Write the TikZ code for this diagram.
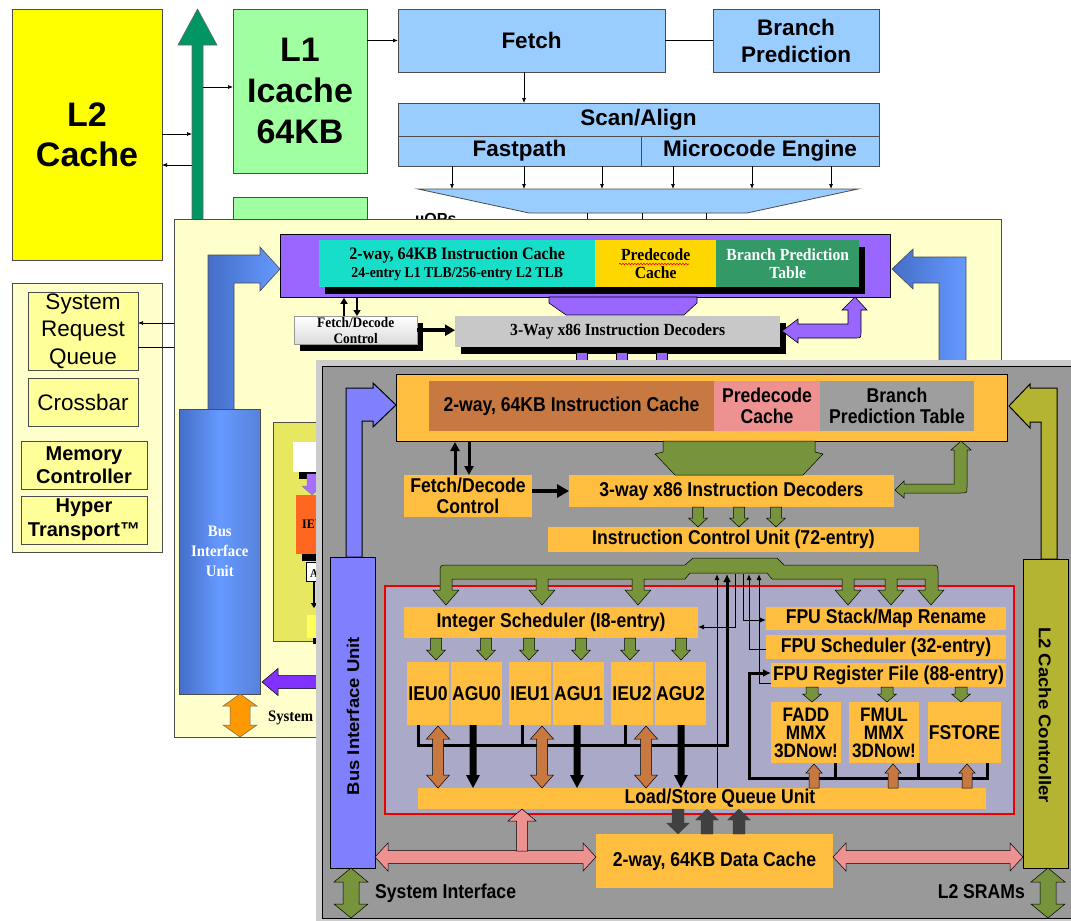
\documentclass[tikz,border=0pt]{standalone}
\usepackage{fontspec}
\setmainfont{Liberation Sans}
\newfontfamily\nsans[FakeStretch=0.88]{Liberation Sans}
\newfontfamily\nserif[FakeStretch=0.92]{Liberation Serif}
\usetikzlibrary{arrows.meta,decorations.pathmorphing}
\newcommand\fsz[2]{\fontsize{#1}{#2}\selectfont}
% box node from corner (#3,#4) to corner (#5,#6)
\newcommand\bx[7]{\node[#1,anchor=north west,minimum width={(#5-#3)*1pt},minimum height={(#6-#4)*1pt}] (#2) at (#3,#4) {#7};}
% block arrow: style, start x, start y, direction, length, shaft half width, head half width, head length
\newcommand\ba[8]{\path[#1,shift={(#2,#3)},rotate=#4] (0,-#6) -- ({#5-#8},-#6) -- ({#5-#8},-#7) -- (#5,0) -- ({#5-#8},#7) -- ({#5-#8},#6) -- (0,#6) -- cycle;}
% double-headed block arrow, same arguments
\newcommand\dba[8]{\path[#1,shift={(#2,#3)},rotate=#4] (0,0) -- (#8,-#7) -- (#8,-#6) -- ({#5-#8},-#6) -- ({#5-#8},-#7) -- (#5,0) -- ({#5-#8},#7) -- ({#5-#8},#6) -- (#8,#6) -- (#8,#7) -- cycle;}
% drop shadow behind a box
\newcommand\shd[4]{\fill[black] (#1+6,#2+7) rectangle (#3+6,#4+7);}

\definecolor{l2yel}{RGB}{255,255,0}
\definecolor{gbig}{RGB}{0,150,100}
\definecolor{l1grn}{RGB}{160,255,160}
\definecolor{tblue}{RGB}{153,204,255}
\definecolor{pyel}{RGB}{255,255,204}
\definecolor{ybox}{RGB}{255,255,153}
\definecolor{mpurp}{RGB}{153,102,255}
\definecolor{mcyan}{RGB}{22,222,200}
\definecolor{mgold}{RGB}{255,215,0}
\definecolor{mgrn}{RGB}{51,153,102}
\definecolor{mgray}{RGB}{200,200,200}
\definecolor{bdark}{RGB}{68,110,200}
\definecolor{blight}{RGB}{102,153,255}
\definecolor{apurp}{RGB}{128,48,255}
\definecolor{aorng}{RGB}{255,153,0}
\definecolor{iyel}{RGB}{232,232,96}
\definecolor{iorng}{RGB}{255,102,32}
\definecolor{fgray}{RGB}{153,153,153}
\definecolor{fband}{RGB}{204,204,204}
\definecolor{forng}{RGB}{255,190,64}
\definecolor{fbrown}{RGB}{200,121,65}
\definecolor{fpink}{RGB}{238,145,145}
\definecolor{fbpt}{RGB}{158,158,158}
\definecolor{fblue}{RGB}{128,128,255}
\definecolor{folive}{RGB}{119,147,60}
\definecolor{fl2}{RGB}{180,180,50}
\definecolor{flav}{RGB}{170,170,200}
\definecolor{fred}{RGB}{235,0,0}
\definecolor{fdark}{RGB}{64,64,64}

\tikzset{
  box/.style={draw=black!70,line width=0.8pt,inner sep=0pt,outer sep=0pt,align=center},
  tarr/.style={-{Latex[length=5pt,width=4pt]},line width=0.7pt},
  topfont/.style={font=\bfseries\fsz{22.5}{27}},
  mser/.style={font=\nserif\bfseries\fsz{17}{18}},
  fbox/.style={fill=forng,inner sep=0pt,outer sep=0pt,align=center,font=\nsans\bfseries\fsz{20}{21}},
  gar/.style={fill=folive,draw=black,line width=0.5pt},
  brar/.style={fill=fbrown,draw=black,line width=0.5pt},
  pkar/.style={fill=fpink,draw=black,line width=0.5pt},
  dkar/.style={fill=fdark,draw=fdark,line width=0.3pt},
  bkar/.style={fill=black},
  fline/.style={line width=1pt},
  fthick/.style={line width=3pt},
  ftip/.style={-{Latex[length=6pt,width=5pt]}},
}

\begin{document}
\begin{tikzpicture}[x=1pt,y=-1pt]
\useasboundingbox (0,0) rectangle (1071,921);
\fill[white] (0,0) rectangle (1071,921);

%% ---------- fetch pipeline sketch (back) ----------
\bx{box,fill=l2yel,font=\bfseries\fsz{34}{40}}{L2}{12}{9}{162}{260}{L2\\Cache}
\ba{fill=gbig,draw=black!60,line width=0.6pt}{197.5}{225}{90}{216}{5.5}{19.5}{36}
\coordinate (gbL) at (192,100);
\coordinate (gbR) at (203,100);
\bx{box,fill=l1grn,font=\bfseries\fsz{34}{41}}{L1}{233}{9}{367}{173}{L1\\Icache\\64KB}
\bx{box,fill=l1grn}{L1b}{233}{197}{367}{240}{}
\draw[tarr] (L2.east |- 0,134) -- (gbL |- 0,134);
\draw[tarr] (gbL |- 0,165) -- (L2.east |- 0,165);
\draw[tarr] (gbR |- 0,87) -- (L1.west |- 0,87);

\bx{box,fill=tblue,topfont}{Fetch}{398}{9}{665}{72}{Fetch}
\bx{box,fill=tblue,topfont}{BP}{713}{9}{879}{72}{Branch\\Prediction}
\draw[tarr] (L1.east |- Fetch.west) -- (Fetch.west);
\draw[line width=0.7pt] (Fetch.east) -- (BP.west);
\bx{box,fill=tblue,topfont}{Scan}{398}{103}{879}{136}{Scan/Align}
\bx{box,fill=tblue,topfont}{Fast}{398}{136}{641}{166}{Fastpath}
\bx{box,fill=tblue,topfont}{Micro}{641}{136}{879}{166}{Microcode Engine}
\draw[tarr] (Fetch.south -| 524,0) -- (Scan.north -| 524,0);
\path[fill=tblue,draw=black!70,line width=0.8pt] (418,189) -- (858,189) -- (747,213) -- (529,213) -- cycle;
\foreach \x in {452,524,602} {\draw[tarr] (Fast.south -| \x,0) -- (\x,189);}
\foreach \x in {673,752,831} {\draw[tarr] (Micro.south -| \x,0) -- (\x,189);}
\foreach \x in {587,642,706} {\draw[line width=0.7pt] (\x,213) -- (\x,225);}
\node[anchor=base west,font=\bfseries\fsz{16}{18},inner sep=0pt] (uops) at (415,224) {µOPs};

%% ---------- northbridge list ----------
\bx{box,fill=pyel}{nb}{12}{283}{162}{552}{}
\bx{box,fill=ybox,font=\fsz{22.5}{27.5}}{SRQ}{28}{292}{138}{370}{System\\Request\\Queue}
\bx{box,fill=ybox,font=\fsz{22.5}{27}}{XB}{28}{378}{138}{426}{Crossbar}
\bx{box,fill=ybox,font=\bfseries\fsz{20}{22.5}}{MC}{21}{441}{147}{489}{Memory\\Controller}
\bx{box,fill=ybox,font=\bfseries\fsz{20}{24}}{HT}{21}{496}{147}{544}{Hyper\\Transport™}

%% ---------- serif block diagram (middle) ----------
\bx{box,fill=pyel}{mid}{174}{219}{1001}{737}{}
\draw[tarr] (mid.west |- 0,323) -- (SRQ.east |- 0,323);
\draw[line width=0.7pt] (SRQ.east |- 0,347) -- (mid.west |- 0,347);

\bx{draw=black,line width=0.8pt,fill=mpurp,inner sep=0pt}{mic}{280}{234}{890}{297}{}
\shd{319}{240}{859}{287}
\bx{fill=mcyan,inner sep=0pt,align=center,mser}{mcy}{319}{240}{595}{287}{{\fsz{17.5}{19}2-way, 64KB Instruction Cache}\\{\fsz{15}{17}24-entry L1 TLB/256-entry L2 TLB}}
\bx{fill=mgold,inner sep=0pt,align=center,mser}{mpd}{595}{240}{716}{287}{Predecode\\Cache}
\bx{fill=mgrn,inner sep=0pt,align=center,mser,text=white}{mbp}{716}{240}{859}{287}{Branch Prediction\\Table}
\draw[red,line width=0.6pt,decorate,decoration={snake,amplitude=0.8pt,segment length=3pt}] (619,264) -- (689,264);
\path[fill=mpurp,draw=black,line width=0.6pt] (549,297) -- (697,297) -- (697,303) -- (684,315) -- (566,315) -- (549,303) -- cycle;

\shd{294}{316}{417}{344}
\bx{top color=white,bottom color=black!14,draw=black!40,line width=0.4pt,inner sep=0pt,align=center,font=\nserif\bfseries\fsz{14.5}{16}}{mfd}{294}{316}{417}{344}{Fetch/Decode\\Control}
\shd{455}{316}{780}{347}
\bx{fill=mgray,inner sep=0pt,mser}{mdec}{455}{316}{780}{347}{3-Way x86 Instruction Decoders}
\draw[line width=2.5pt,-{Triangle[length=6pt,width=7pt]}] (mfd.north -| 344,0) -- (mic.south -| 344,0);
\draw[line width=2.5pt,-{Triangle[length=6pt,width=7pt]}] (mic.south -| 357,0) -- (mfd.north -| 357,0);
\draw[line width=4pt,-{Triangle[length=10pt,width=11pt]}] (mfd.east) -- (mdec.west |- mfd.east);
\path[fill=mpurp,draw=black,line width=0.6pt] (782,331) -- (798,319) -- (798,324) -- (848,324) -- (848,310) -- (842,310) -- (855,297) -- (867,310) -- (861,310) -- (861,332) .. controls (861,338) .. (855,338) -- (798,338) -- (798,343) -- cycle;
\foreach \x in {582,622,662} {\path[fill=mpurp,draw=black,line width=0.4pt] (\x-5.5,352) rectangle (\x+5.5,372);}

\path[left color=bdark,right color=blight,draw=black!70,line width=0.6pt] (208,420) -- (208,255) -- (260,255) -- (260,247) -- (280,269) -- (260,291) -- (260,283) -- (234,283) -- (234,420) -- cycle;
\path[left color=bdark,right color=blight,draw=black!70,line width=0.6pt] (966,372) -- (966,257) -- (913,257) -- (913,249) -- (892,269) -- (913,289) -- (913,283) -- (939,283) -- (939,372) -- cycle;
\bx{left color=bdark,right color=blight!85!black,middle color=blight,draw=black!70,line width=0.6pt,inner sep=0pt,align=center,text=white,font=\nserif\bfseries\fsz{16}{20}}{mbiu}{179}{409}{260}{694}{Bus\\Interface\\Unit}
\ba{fill=apurp,draw=black,line width=0.5pt}{330}{682}{180}{68}{6.5}{13.5}{16}
\dba{fill=aorng,draw=black!60,line width=0.5pt}{240}{694}{-90}{43}{10}{17}{12}
\node[anchor=base west,inner sep=0pt,font=\nserif\bfseries\fsz{16}{18}] (msys) at (268,721) {System Interface};

\bx{box,fill=iyel}{mex}{273}{422}{345}{641}{}
\shd{293}{442}{345}{472}
\bx{fill=white,inner sep=0pt}{mw}{293}{442}{345}{472}{}
\ba{fill=apurp!70,draw=black!50,line width=0.4pt}{312}{474}{-90}{21}{5}{10}{9}
\shd{296}{495}{345}{554}
\bx{fill=iorng,inner sep=0pt}{mieu}{296}{495}{345}{554}{}
\node[anchor=base west,inner sep=0pt,font=\nserif\bfseries\fsz{13}{14}] (mieut) at (302,528) {IEU};
\bx{fill=white,draw=black,line width=0.8pt,inner sep=0pt}{magu}{306}{562}{345}{581}{}
\node[anchor=base west,inner sep=0pt,font=\nserif\bfseries\fsz{12}{13}] (magut) at (310,577) {AGU};
\draw[line width=1.5pt,-{Triangle[length=5pt,width=6pt]}] (magu.south -| 314,0) -- (314,608);
\shd{307}{615}{345}{637}
\bx{left color=yellow!60!white,right color=yellow,inner sep=0pt}{myel}{307}{615}{345}{637}{}

%% ---------- K7 core block diagram (front) ----------
\bx{fill=fband,inner sep=0pt}{fr0}{316}{360}{1080}{930}{}
\bx{fill=fgray,draw=black,line width=1.2pt,inner sep=0pt}{fr}{322}{366}{1080}{918}{}

\bx{fill=forng,draw=black,line width=1pt,inner sep=0pt}{fic}{396}{374}{1007}{441}{}
\bx{fbox,fill=fbrown}{ficc}{429}{381}{714}{431}{2-way, 64KB Instruction Cache}
\bx{fbox,fill=fpink}{fpd}{714}{381}{820}{431}{Predecode\\Cache}
\bx{fbox,fill=fbpt}{fbp}{820}{381}{974}{431}{Branch\\Prediction Table}

\bx{fill=fblue,draw=black,line width=1.2pt,inner sep=0pt}{fbiu}{330}{557}{375}{868}{}
\node[rotate=90,inner sep=0pt,font=\bfseries\fsz{18.5}{20}] (fbiut) at (fbiu.center |- 0,716) {\scalebox{1}[0.92]{Bus Interface Unit}};
\path[fill=fblue,draw=black,line width=1pt] (346,557) -- (346,388) -- (373,388) -- (373,383) -- (396,405) -- (373,427) -- (373,421) -- (362,421) -- (362,557) -- cycle;
\bx{fill=fl2,draw=black,line width=1.2pt,inner sep=0pt}{fl2c}{1023}{559}{1068}{868}{}
\node[rotate=-90,inner sep=0pt,font=\bfseries\fsz{18.5}{20}] (fl2t) at (1045,715) {\scalebox{1}[0.92]{L2 Cache Controller}};
\path[fill=fl2,draw=black,line width=1pt] (1057,559) -- (1057,388) -- (1030,388) -- (1030,384) -- (1009,406) -- (1030,428) -- (1030,422) -- (1041,422) -- (1041,559) -- cycle;

\bx{fbox}{ffd}{404}{475}{532}{517}{Fetch/Decode\\Control}
\bx{fbox}{fdec}{569}{475}{894}{507}{3-way x86 Instruction Decoders}
\draw[line width=3pt,-{Triangle[length=9pt,width=9pt]}] (ffd.north -| 455,0) -- (fic.south -| 455,0);
\draw[line width=3pt,-{Triangle[length=9pt,width=9pt]}] (fic.south -| 469,0) -- (ffd.north -| 469,0);
\draw[line width=4.5pt,-{Triangle[length=12pt,width=13pt]}] (ffd.east |- fdec.west) -- (fdec.west);
\path[gar] (663,441) -- (815,441) -- (815,452) -- (823,454) -- (803,475) -- (675,475) -- (655,454) -- (663,452) -- cycle;
\path[gar] (895,490) -- (904,481) -- (904,484) -- (954,484) -- (954,450) -- (951,450) -- (961,441) -- (971,450) -- (967,450) -- (967,487) .. controls (967,493) .. (961,493) -- (904,493) -- (904,498) -- cycle;

\bx{fbox}{ficu}{548}{527}{919}{552}{Instruction Control Unit (72-entry)}
\foreach \x in {698,739,776} {\ba{gar}{\x}{507}{-90}{20}{5.5}{9.5}{9}}

\bx{fill=flav,draw=fred,line width=2pt,inner sep=0pt}{fex}{384}{585}{1013}{813}{}

\bx{fbox}{fis}{404}{607}{698}{638}{Integer Scheduler (I8-entry)}
\bx{fbox}{ieu0}{407}{662}{449}{725}{IEU0}
\bx{fbox}{agu0}{451}{662}{502}{725}{AGU0}
\bx{fbox}{ieu1}{509}{662}{551}{725}{IEU1}
\bx{fbox}{agu1}{553}{662}{604}{725}{AGU1}
\bx{fbox}{ieu2}{611}{662}{653}{725}{IEU2}
\bx{fbox}{agu2}{655}{662}{706}{725}{AGU2}
\foreach \x in {436,486,529,581,630,681} {\ba{gar}{\x}{638}{-90}{22}{5.5}{9.5}{10}}

\bx{fbox}{frn}{766}{607}{1006}{630}{FPU Stack/Map Rename}
\bx{fbox}{fsc}{766}{635}{1006}{659}{FPU Scheduler (32-entry)}
\bx{fbox}{frf}{771}{663}{1006}{687}{FPU Register File (88-entry)}
\bx{fbox,font=\nsans\bfseries\fsz{19.5}{18}}{fadd}{771}{702}{841}{763}{FADD\\MMX\\3DNow!}
\bx{fbox,font=\nsans\bfseries\fsz{19.5}{18}}{fmul}{849}{702}{919}{763}{FMUL\\MMX\\3DNow!}
\bx{fbox}{fst}{928}{702}{1001}{763}{FSTORE}
\foreach \x in {812,887,961} {\ba{gar}{\x}{687}{-90}{15}{6}{9.5}{8}}

\bx{fbox}{flsq}{418}{788}{986}{809}{\hspace*{36pt}Load/Store Queue Unit}

% result and control lines
\draw[fline,ftip] (flsq.north -| 717,0) -- (717,574);
\draw[fthick,-{Latex[length=8pt,width=8pt]}] (ieu0.south -| 418,0) |- (727,745) -- (727,574);
\draw[fthick] (ieu1.south -| 522,0) -- (522,745);
\draw[fthick] (ieu2.south -| 625,0) -- (625,745);
\draw[fline,ftip] (735,574) |- (fis.east |- 0,627);
\draw[fline,ftip] (743,574) |- (frn.west |- 0,620);
\draw[fline,ftip] (fsc.west |- 0,649) -| (749,574);
\draw[fline,ftip] (frf.west |- 0,683) -| (759,574);
\draw[fthick,-{Latex[length=8pt,width=8pt]}] (fadd.south -| 835,0) |- (749,778) |- (frf.west |- 0,673);
\draw[fthick] (fmul.south -| 918,0) -- (918,778);
\draw[fthick] (fst.south -| 987,0) |- (835,778);

% green operation bus
\path[gar] (440,590) -- (440,573) .. controls (440,565) .. (448,565) -- (685,565) -- (693,558) -- (777,558) -- (784,565) -- (930,565) .. controls (938,565) .. (938,573) -- (938,590) -- (944,590) -- (931,605) -- (918,590) -- (925,590) -- (925,579)
 -- (897,579) -- (897,590) -- (904,590) -- (891,605) -- (878,590) -- (885,590) -- (885,579)
 -- (854,579) -- (854,590) -- (861,590) -- (848,605) -- (835,590) -- (842,590) -- (842,579)
 -- (772,579) -- (767,573) -- (690,573) -- (685,579)
 -- (644,579) -- (644,590) -- (651,590) -- (638,605) -- (625,590) -- (632,590) -- (632,579)
 -- (548,579) -- (548,590) -- (555,590) -- (542,605) -- (529,590) -- (536,590) -- (536,579)
 -- (452,579) -- (452,590) -- (459,590) -- (446,605) -- (433,590) -- cycle;

% integer units to load/store queue
\foreach \x in {438,542,646} {\dba{brar}{\x}{726}{-90}{62}{5.5}{11.5}{13}}
\foreach \x in {473,577,681} {\ba{bkar}{\x}{725}{-90}{63}{3.5}{7}{13}}
\foreach \x in {814,893,967} {\ba{brar}{\x}{788}{90}{24}{5}{8}{9}}

% data cache and system buses
\bx{fbox}{fdc}{596}{834}{833}{888}{2-way, 64KB Data Cache}
\ba{dkar}{678}{809}{-90}{25}{6}{11.5}{11}
\foreach \x in {707,739} {\ba{dkar}{\x}{834}{90}{25}{6}{11.5}{11}}
\dba{pkar}{375}{857}{0}{221}{6.5}{14}{13}
\ba{pkar}{522}{851}{90}{42}{5.5}{14}{12}
\dba{pkar}{833}{857}{0}{190}{6.5}{14}{13}
\dba{gar}{351}{868}{-90}{50}{8}{17}{14}
\dba{gar}{1048}{868}{-90}{50}{8}{17}{14}
\node[anchor=base west,inner sep=0pt,font=\nsans\bfseries\fsz{20}{22}] (fsi) at (375,898) {System Interface};
\node[anchor=base east,inner sep=0pt,font=\nsans\bfseries\fsz{20}{22}] (fsr) at (1025,898) {L2 SRAMs};
\end{tikzpicture}
\end{document}
